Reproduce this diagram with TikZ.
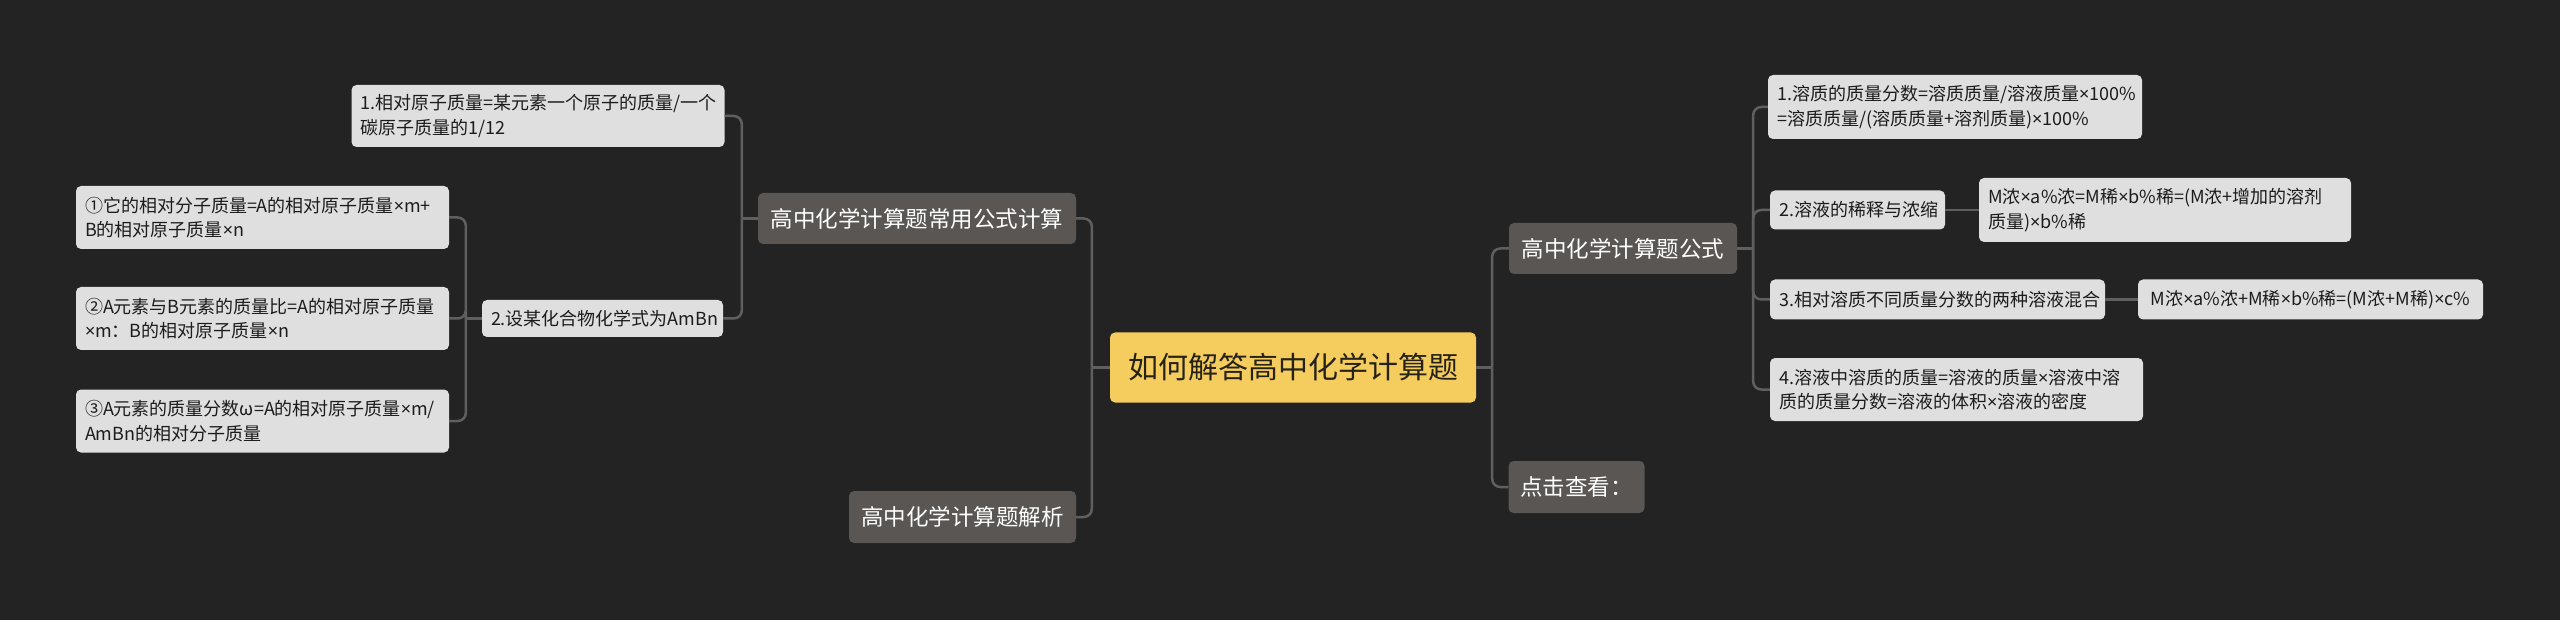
\documentclass[tikz,border=0pt]{standalone}
\usepackage{fontspec}
\newfontfamily\cjk{Noto Sans CJK SC}
\newfontfamily\latx{Noto Sans}
\newcommand\xtimes{{\latx ×}}
\definecolor{bg}{HTML}{232323}
\definecolor{lfill}{HTML}{DFDFDF}
\definecolor{ltext}{HTML}{1C1C1C}
\definecolor{gfill}{HTML}{5A5654}
\definecolor{rfill}{HTML}{F5CD5F}
\definecolor{rtext}{HTML}{262218}
\definecolor{lcol}{HTML}{5F5F5F}
\tikzset{
  box/.style={rounded corners=5pt, inner xsep=9pt, inner ysep=3pt, anchor=center},
  lbox/.style={box, fill=lfill, text=ltext, font=\cjk\fontsize{18}{24.5}\selectfont, align=left},
  gbox/.style={box, fill=gfill, text=white, font=\cjk\fontsize{22.5}{28}\selectfont, align=center},
  rootbox/.style={box, fill=rfill, text=rtext, font=\cjk\fontsize{30}{36}\selectfont, align=center},
  conn/.style={draw=lcol, line width=2.5pt},
  rconn/.style={conn, rounded corners=8pt},
}
\begin{document}
\begin{tikzpicture}[x=1pt,y=-1pt]
\fill[bg] (0,0) rectangle (2560,620);
\useasboundingbox (0,0) rectangle (2560,620);

% root
\node[rootbox, text width=348pt, minimum height=70pt] (root) at (1293,367.5) {如何解答高中化学计算题};

% left side
\node[gbox, text width=300pt, minimum height=51pt] (gL) at (917,218.5) {高中化学计算题常用公式计算};
\node[gbox, text width=209pt, minimum height=52pt] (gA) at (962.5,517) {高中化学计算题解析};
\node[lbox, text width=355pt, minimum height=62pt] (L1) at (538,116) {1.相对原子质量=某元素一个原子的质量/一个\\碳原子质量的1/12};
\node[lbox, align=center, text width=223pt, minimum height=37pt] (L2) at (602.5,318.5) {2.设某化合物化学式为AmBn};
\node[lbox, text width=355pt, minimum height=63pt] (c1) at (262.5,217.5) {①它的相对分子质量=A的相对原子质量\xtimes m+\\B的相对原子质量\xtimes n};
\node[lbox, text width=355pt, minimum height=63pt] (c2) at (262.5,318.5) {②A元素与B元素的质量比=A的相对原子质量\\\xtimes m：B的相对原子质量\xtimes n};
\node[lbox, text width=355pt, minimum height=63pt] (c3) at (262.5,421) {③A元素的质量分数ω=A的相对原子质量\xtimes m/\\AmBn的相对分子质量};

% right side
\node[gbox, text width=210pt, minimum height=51pt] (gR) at (1623,248.5) {高中化学计算题公式};
\node[gbox, text width=118pt, minimum height=52pt] (gC) at (1576.5,487) {点击查看：};
\node[lbox, text width=356pt, minimum height=64pt] (R1) at (1955,107) {1.溶质的质量分数=溶质质量/溶液质量\xtimes 100\%\\=溶质质量/(溶质质量+溶剂质量)\xtimes 100\%};
\node[lbox, align=center, text width=157pt, minimum height=39pt] (R2) at (1857.5,210) {2.溶液的稀释与浓缩};
\node[lbox, text width=354pt, minimum height=64pt] (R2a) at (2165,210) {M浓\xtimes a\%浓=M稀\xtimes b\%稀=(M浓+增加的溶剂\\质量)\xtimes b\%稀};
\node[lbox, align=center, text width=317pt, minimum height=40pt] (R3) at (1937.5,299.5) {3.相对溶质不同质量分数的两种溶液混合};
\node[lbox, align=center, text width=327pt, minimum height=40pt] (R3a) at (2310.5,299.5) {M浓\xtimes a\%浓+M稀\xtimes b\%稀=(M浓+M稀)\xtimes c\%};
\node[lbox, text width=355pt, minimum height=63pt] (R4) at (1956.5,389.5) {4.溶液中溶质的质量=溶液的质量\xtimes 溶液中溶\\质的质量分数=溶液的体积\xtimes 溶液的密度};

% connectors: root
\draw[conn] (root.west) -- ++(-18,0) coordinate (jRL);
\draw[rconn] (jRL) |- (gL.east);
\draw[rconn] (jRL) |- (gA.east);
\draw[conn] (root.east) -- ++(16,0) coordinate (jRR);
\draw[rconn] (jRR) |- (gR.west);
\draw[rconn] (jRR) |- (gC.west);
% left branch
\draw[conn] (gL.west) -- ++(-16,0) coordinate (jL);
\draw[rconn] (jL) |- (L1.east);
\draw[rconn] (jL) |- (L2.east);
\draw[conn] (L2.west) -- ++(-16,0) coordinate (jL2);
\draw[rconn] (jL2) |- (c1.east);
\draw[rconn] (jL2) |- (c2.east);
\draw[rconn] (jL2) |- (c3.east);
% right branch
\draw[conn] (gR.east) -- ++(16,0) coordinate (jR);
\draw[rconn] (jR) |- (R1.west);
\draw[rconn] (jR) |- (R2.west);
\draw[rconn] (jR) |- (R3.west);
\draw[rconn] (jR) |- (R4.west);
\draw[conn] (R2.east) -- (R2a.west);
\draw[conn] (R3.east) -- (R3a.west);
\end{tikzpicture}
\end{document}
